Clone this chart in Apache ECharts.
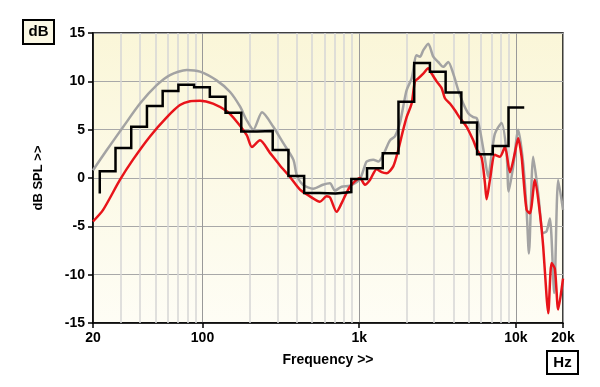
<!DOCTYPE html>
<html>
<head>
<meta charset="utf-8">
<script src="https://cdn.jsdelivr.net/npm/echarts@6/dist/echarts.min.js"></script>
<style>
  html, body { margin: 0; padding: 0; background: #fff; }
  #chart { width: 600px; height: 387px; }
</style>
</head>
<body>
<div id="chart"></div>
<script>
// grey trace
const grayFreq = [20, 24.5, 31.2, 39.9, 51, 62, 79.3, 96.4, 123, 150, 173.5, 191, 211, 240, 283, 328, 380, 400, 438, 509,
  587, 651, 700, 773, 873, 1011, 1088, 1116, 1230, 1324, 1424, 1572, 1691, 1821, 1911, 2009, 2162, 2328, 2443, 2564,
  2760, 2971, 3196, 3440, 3702, 3985, 4288, 4616, 4968, 5347, 5620, 5898, 6348, 6662, 7004, 7352, 8114, 8730, 9000, 9622,
  10356, 11144, 11714, 12118, 12908, 13890, 14950, 15716, 16496, 17572, 18638, 20000]
const grayDb = [0.8, 2.9, 5.3, 7.7, 9.6, 10.65, 11.17, 11.0, 10.1, 8.9, 7.4, 6.0, 5.0, 6.8, 5.3, 3.6, 1.9, 0.3, -0.7, -1.1,
  -0.7, -0.55, -1.3, -0.9, -0.8, -0.1, 1.3, 1.7, 1.9, 1.7, 2.4, 3.9, 4.3, 5.7, 7.4, 9.1, 10.3, 12.7, 12.55, 13.2,
  13.9, 12.55, 12.0, 11.5, 12.0, 10.8, 9.1, 7.7, 6.7, 6.3, 6.2, 5.0, 2.0, 0.1, 2.4, 4.6, 5.7, 2.6, -1.4, 1.2,
  5.0, 1.5, -3.3, -7.8, 2.2, -1.6, -5.7, -5.5, -4.2, -11.9, -0.2, -3.3]

// red trace
const redFreq = [20, 23.2, 29.7, 36, 46.2, 59.3, 71.8, 83.2, 96.4, 116.7, 143.3, 166, 192, 206.8, 232.7, 269.6, 312, 362, 419, 485,
  562, 620, 651, 718, 773, 873, 1011, 1088, 1172, 1293, 1391, 1497, 1650, 1776, 1911, 2009, 2162, 2270, 2382, 2564,
  2760, 2902, 3122, 3360, 3527, 3795, 4084, 4398, 4852, 5347, 5620, 6048, 6348, 6508, 6832, 7352, 7914, 8518, 9166, 9864,
  10356, 10886, 11144, 11714, 12298, 13234, 14242, 14950, 15716, 16090, 16914, 17752, 18638, 20000]
const redDb = [-4.5, -3.3, -0.2, 1.9, 4.3, 6.3, 7.55, 7.95, 8.0, 7.7, 6.9, 5.8, 4.4, 3.2, 3.9, 2.6, 1.3, 0.1, -1.2, -1.9,
  -2.45, -1.9, -2.0, -3.5, -2.6, -0.9, 0.0, -0.7, -0.2, 0.9, 0.6, 0.5, 1.2, 2.9, 5.0, 6.3, 7.7, 10.0, 10.3, 10.8,
  11.35, 10.8, 10.0, 9.3, 8.25, 7.7, 7.0, 6.2, 5.3, 3.9, 3.0, 2.1, -0.5, -2.2, -0.2, 2.4, 2.2, 3.2, 0.6, 2.6,
  4.1, 2.2, 0.3, -3.3, -3.65, -0.2, -3.65, -7.1, -12.3, -14.0, -8.8, -9.4, -13.6, -10.4]

// black 1/3 octave steps
const bandCenters = [25, 31.5, 40, 50, 63, 80, 100, 125, 160, 200, 250, 315, 400, 500, 630, 800,
  1000, 1250, 1600, 2000, 2500, 3150, 4000, 5000, 6300, 8000, 10000]
const bandLevels = [0.7, 3.1, 5.3, 7.45, 9.0, 9.65, 9.4, 8.4, 6.75, 4.8, 4.85, 2.9, 0.2, -1.55, -1.6, -1.45,
  -0.1, 1.0, 2.55, 7.9, 11.9, 11.0, 8.85, 5.75, 2.45, 3.3, 7.3]
const stepStart = -1.6

const minorGrid = [30, 40, 50, 60, 70, 80, 90, 200, 300, 400, 500, 600, 700, 800, 900,
  2000, 3000, 4000, 5000, 6000, 7000, 8000, 9000]

const FONT = "'Liberation Sans', Arial, sans-serif"

function zip(a, b) {
  return a.map((v, i) => [v, b[i]])
}

function bandEdges(c) {
  const n = Math.round(3 * Math.log2(c / 1000))
  const fc = 1000 * Math.pow(2, n / 3)
  return [fc / Math.pow(2, 1 / 6), fc * Math.pow(2, 1 / 6)]
}

const stepData = [[bandEdges(bandCenters[0])[0], stepStart]]
bandCenters.forEach((c, i) => {
  const e = bandEdges(c)
  stepData.push([e[0], bandLevels[i]], [e[1], bandLevels[i]])
})

const gridLines = minorGrid.map(f => [{coord: [f, -15]}, {coord: [f, 15]}])
const minorTicks = minorGrid.map(f => [{coord: [f, -15]}, {coord: [f, -15.3]}])

function freqLabel(v) {
  const r = Math.round(v)
  return r >= 1000 ? (r / 1000) + 'k' : String(r)
}

const myChart = echarts.init(document.getElementById('chart'))
myChart.setOption({
  animation: false,
  backgroundColor: '#fff',
  grid: {
    left: 93,
    right: 37,
    top: 33,
    height: 290,
    show: true,
    borderColor: '#000',
    borderWidth: 1.5,
    backgroundColor: new echarts.graphic.LinearGradient(0, 0, 0, 1, [
      {offset: 0, color: '#faf6d8'},
      {offset: 1, color: '#fefdf5'}
    ])
  },
  xAxis: {
    type: 'log',
    min: 20,
    max: 20000,
    name: 'Frequency >>',
    nameLocation: 'middle',
    nameGap: 30,
    nameTextStyle: {fontFamily: FONT, fontWeight: 'bold', fontSize: 14, color: '#000'},
    axisLine: {show: true, onZero: false, lineStyle: {color: '#000', width: 1.5}},
    axisTick: {show: true, length: 5, lineStyle: {color: '#000', width: 1.5}},
    axisLabel: {
      formatter: freqLabel,
      showMinLabel: true,
      showMaxLabel: true,
      margin: 8,
      fontFamily: FONT,
      fontWeight: 'bold',
      fontSize: 14,
      color: '#000'
    },
    splitLine: {show: true, lineStyle: {color: '#999', width: 1}},
    minorTick: {show: false},
    minorSplitLine: {show: false}
  },
  yAxis: {
    type: 'value',
    min: -15,
    max: 15,
    interval: 5,
    name: 'dB SPL >>',
    nameLocation: 'middle',
    nameRotate: 90,
    nameGap: 48,
    nameTextStyle: {fontFamily: FONT, fontWeight: 'bold', fontSize: 13, color: '#000'},
    axisLine: {show: true, onZero: false, lineStyle: {color: '#000', width: 1.5}},
    axisTick: {show: true, length: 5, lineStyle: {color: '#000', width: 1.5}},
    axisLabel: {margin: 8, fontFamily: FONT, fontWeight: 'bold', fontSize: 14, color: '#000'},
    splitLine: {show: true, lineStyle: {color: '#a8a8a8', width: 1}}
  },
  graphic: [
    {
      type: 'group', left: 22, top: 19,
      children: [
        {type: 'rect', shape: {x: 0, y: 0, width: 31, height: 24}, style: {fill: '#fbf8e4', stroke: '#000', lineWidth: 2}},
        {type: 'text', x: 15.5, y: 12, style: {text: 'dB', font: 'bold 15px ' + FONT, fill: '#000', align: 'center', verticalAlign: 'middle'}}
      ]
    },
    {
      type: 'group', left: 546, top: 350,
      children: [
        {type: 'rect', shape: {x: 0, y: 0, width: 31, height: 23}, style: {fill: '#fff', stroke: '#000', lineWidth: 2}},
        {type: 'text', x: 15.5, y: 12, style: {text: 'Hz', font: 'bold 15px ' + FONT, fill: '#000', align: 'center', verticalAlign: 'middle'}}
      ]
    }
  ],
  series: [
    {
      type: 'line',
      data: [],
      silent: true,
      markLine: {
        silent: true,
        symbol: 'none',
        z: 1,
        label: {show: false},
        lineStyle: {color: '#d6d6d6', width: 1.5, type: 'solid'},
        data: gridLines
      }
    },
    {
      type: 'line',
      data: [],
      silent: true,
      markLine: {
        silent: true,
        symbol: 'none',
        label: {show: false},
        lineStyle: {color: '#000', width: 1, type: 'solid'},
        data: minorTicks
      }
    },
    {
      name: 'grey',
      type: 'line',
      data: zip(grayFreq, grayDb),
      smooth: 0.25,
      showSymbol: false,
      lineStyle: {color: '#a3a3a3', width: 2.5}
    },
    {
      name: 'red',
      type: 'line',
      data: zip(redFreq, redDb),
      smooth: 0.25,
      showSymbol: false,
      lineStyle: {color: '#e8141a', width: 2.5}
    },
    {
      name: 'bands',
      type: 'line',
      data: stepData,
      showSymbol: false,
      lineStyle: {color: '#000', width: 2.5, join: 'miter'}
    }
  ]
})
</script>
</body>
</html>
